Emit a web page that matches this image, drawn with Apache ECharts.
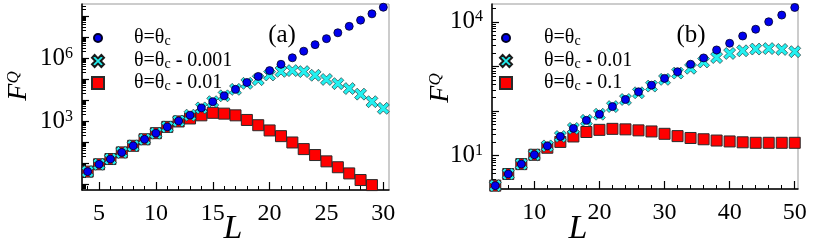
<!DOCTYPE html>
<html><head><meta charset="utf-8">
<script src="https://cdn.jsdelivr.net/npm/echarts@6/dist/echarts.min.js"></script>
<style>html,body{margin:0;padding:0;background:#fff}#c{width:822px;height:247px}</style>
</head><body><div id="c"></div>
<script>
// ---- data ----
const L_A = [4,5,6,7,8,9,10,11,12,13,14,15,16,17,18,19,20,21,22,23,24,25,26,27,28,29,30];
const A_crit = [3.9,8.7,15.5,32,66,135,263,525,1000,1900,4200,8300,15800,32000,68000,132000,250000,500000,1020000,2100000,4300000,8300000,15800000,32000000,63000000,126000000,260000000];
const A_m0001 = [3.9,8.7,15.5,32,66,135,263,525,1000,1900,4200,8300,15800,32000,62000,93000,155000,230000,250000,224000,150000,95000,60000,35000,19000,8300,4000];
const A_m001 = [3.9,8.7,15.5,32,66,135,263,525,950,1320,1860,2450,2240,1860,1120,630,355,190,95,46,24,12,6.3,3.2,1.55,0.89,null];

const L_B = [4,6,8,10,12,14,16,18,20,22,24,26,28,30,32,34,36,38,40,42,44,46,48,50];
const B_crit = [2.14,3.9,6.5,10.5,16.6,27,41,62,85,126,182,270,380,540,760,1120,1550,2340,3300,4800,6800,10000,14100,20900];
const B_m001 = [2.14,3.9,6.5,10.5,16.6,27,41,62,85,126,182,257,363,513,710,910,1260,1580,1950,2240,2450,2510,2400,2140];
const B_m01 = [2.14,3.9,6.5,10.5,15.1,20.4,27,34,38,40,39,37,35,31,27.5,25,23.4,21.9,20.9,20,19.5,19.5,19.5,19.5];

const xTicksA = [5,10,15,20,25,30];
const xTicksB = [10,20,30,40,50];
const yLabelsA = [1e3,1e6];
const yLabelsB = [1e1,1e4];
const legendA = ['θ=θc', 'θ=θc - 0.001', 'θ=θc - 0.01'];
const legendB = ['θ=θc', 'θ=θc - 0.01', 'θ=θc - 0.1'];

// ---- helpers ----
const SERIF = 'Liberation Serif';
const pairs = (xs, ys) => xs.map((x,i)=>[x, ys[i]]).filter(p => p[1] != null);
function range(a,b,s){const r=[];for(let v=a;v<=b+1e-9;v+=s)r.push(+v.toFixed(6));return r;}
function decades(lo,hi){const r=[];for(let k=Math.floor(Math.log10(lo));k<=Math.ceil(Math.log10(hi));k++){const v=Math.pow(10,k);if(v>=lo&&v<=hi)r.push(v);}return r;}
function minorLog(lo,hi){const r=[];for(let k=Math.floor(Math.log10(lo));k<=Math.ceil(Math.log10(hi));k++){for(let m=2;m<=9;m++){const v=m*Math.pow(10,k);if(v>=lo&&v<=hi)r.push(v);}}return r;}

const X_PATH = 'path://M2.2,0 L5,2.8 L7.8,0 L10,2.2 L7.2,5 L10,7.8 L7.8,10 L5,7.2 L2.2,10 L0,7.8 L2.8,5 L0,2.2 Z';
const styles = {
  circle: {symbol:'circle', symbolSize:8, itemStyle:{color:'#0000ee', borderColor:'#000022', borderWidth:0.8, opacity:1}},
  cross:  {symbol:X_PATH, symbolSize:12, itemStyle:{color:'#22f0f0', borderColor:'#1a1a1a', borderWidth:0.6, opacity:1}},
  square: {symbol:'rect', symbolSize:11, itemStyle:{color:'#ff0000', borderColor:'#2a2a2a', borderWidth:1, opacity:1}}
};

const yRange = { A:[0.52, 3.7e8], B:[1.8, 2.5e4] };
const xRange = { A:[3.5, 30.5], B:[3.5, 50.5] };

function xAxes(gi, rng, majors, minors){
  return [
    {gridIndex:gi, type:'value', min:rng[0], max:rng[1], position:'bottom',
     axisLine:{show:true, lineStyle:{color:'#000', width:1.5}},
     axisTick:{show:true, inside:true, length:8, customValues:majors, lineStyle:{color:'#000', width:1.2}},
     axisLabel:{show:true, customValues:majors, margin:12, color:'#000', fontFamily:SERIF, fontSize:24},
     splitLine:{show:false}},
    {gridIndex:gi, type:'value', min:rng[0], max:rng[1], position:'bottom',
     axisLine:{show:false},
     axisTick:{show:true, inside:true, length:4, customValues:minors, lineStyle:{color:'#000', width:1}},
     axisLabel:{show:false}, splitLine:{show:false}}
  ];
}
function yAxes(gi, rng, labels){
  const fmt = v => '{b|10}{s|' + Math.round(Math.log10(v)) + '}';
  return [
    {gridIndex:gi, type:'log', logBase:10, min:rng[0], max:rng[1], position:'left',
     axisLine:{show:true, lineStyle:{color:'#000', width:1.5}},
     axisTick:{show:true, inside:true, length:7, customValues:decades(rng[0],rng[1]), lineStyle:{color:'#000', width:1.2}},
     axisLabel:{show:true, customValues:labels, margin:9, formatter:fmt, color:'#000',
       rich:{b:{fontFamily:SERIF, fontSize:25, color:'#000'}, s:{fontFamily:SERIF, fontSize:16, color:'#000', verticalAlign:'top'}}},
     splitLine:{show:false}, minorTick:{show:false}},
    {gridIndex:gi, type:'log', logBase:10, min:rng[0], max:rng[1], position:'left',
     axisLine:{show:false},
     axisTick:{show:true, inside:true, length:4, customValues:minorLog(rng[0],rng[1]), lineStyle:{color:'#000', width:1}},
     axisLabel:{show:false}, splitLine:{show:false}}
  ];
}

function mkLegend(name, text, left, top, w, pad){
  const rest = text.slice(4);
  const fmt = '{t0|θ=θ}{c|c}' + (rest ? '{t|' + rest + '}' : '');
  return {data:[name], left:left, top:top, orient:'vertical', padding:0, itemWidth:w, itemHeight:w,
    selectedMode:false, formatter:()=>fmt,
    textStyle:{fontFamily:SERIF, fontSize:20, color:'#000', rich:{
      t0:{fontFamily:SERIF, fontSize:20, color:'#000', padding:[0,0,0,pad]},
      t:{fontFamily:SERIF, fontSize:20, color:'#000'},
      c:{fontFamily:SERIF, fontSize:14, color:'#000', verticalAlign:'bottom', padding:[5,0,0,0]}
    }}};
}

const series = [
  Object.assign({name:'A3', type:'scatter', xAxisIndex:0, yAxisIndex:0, data:pairs(L_A, A_m001), z:2}, styles.square),
  Object.assign({name:'A2', type:'scatter', xAxisIndex:0, yAxisIndex:0, data:pairs(L_A, A_m0001), z:3}, styles.cross),
  Object.assign({name:'A1', type:'scatter', xAxisIndex:0, yAxisIndex:0, data:pairs(L_A, A_crit), z:4}, styles.circle),
  Object.assign({name:'B3', type:'scatter', xAxisIndex:2, yAxisIndex:2, data:pairs(L_B, B_m01), z:2}, styles.square),
  Object.assign({name:'B2', type:'scatter', xAxisIndex:2, yAxisIndex:2, data:pairs(L_B, B_m001), z:3}, styles.cross),
  Object.assign({name:'B1', type:'scatter', xAxisIndex:2, yAxisIndex:2, data:pairs(L_B, B_crit), z:4}, styles.circle)
];
series.forEach(s => { s.silent = true; s.clip = true; s.animation = false; });

const chart = echarts.init(document.getElementById('c'), null, {renderer:'canvas'});
chart.setOption({
  animation:false,
  backgroundColor:'#fff',
  grid:[
    {left:82, top:4, width:307, height:186, show:true, borderColor:'#999', borderWidth:1, backgroundColor:'transparent'},
    {left:492, top:4, width:306, height:185, show:true, borderColor:'#999', borderWidth:1, backgroundColor:'transparent'}
  ],
  xAxis: [].concat(xAxes(0, xRange.A, xTicksA, range(4,30,1)), xAxes(1, xRange.B, xTicksB, range(4,50,2))),
  yAxis: [].concat(yAxes(0, yRange.A, yLabelsA), yAxes(1, yRange.B, yLabelsB)),
  legend:[
    mkLegend('A1', legendA[0], 93, 28, 8, 27),
    mkLegend('A2', legendA[1], 91, 51, 12, 25),
    mkLegend('A3', legendA[2], 91, 73, 12, 25),
    mkLegend('B1', legendB[0], 501, 28, 8, 29),
    mkLegend('B2', legendB[1], 499, 51, 12, 27),
    mkLegend('B3', legendB[2], 499, 73, 12, 27)
  ],
  graphic:[
    {type:'text', x:282, y:35, style:{text:'(a)', font:'25px "Liberation Serif"', fill:'#000', align:'center', verticalAlign:'middle'}},
    {type:'text', x:691, y:35, style:{text:'(b)', font:'25px "Liberation Serif"', fill:'#000', align:'center', verticalAlign:'middle'}},
    {type:'text', x:233, y:229, style:{text:'L', font:'italic 34px "Liberation Serif"', fill:'#000', align:'center', verticalAlign:'middle'}},
    {type:'text', x:578, y:229, style:{text:'L', font:'italic 34px "Liberation Serif"', fill:'#000', align:'center', verticalAlign:'middle'}},
    {type:'text', x:19, y:86, rotation:Math.PI/2, style:{text:'{f|F}{q|Q}', align:'center', verticalAlign:'middle',
      rich:{f:{font:'italic 28px "Liberation Serif"', fill:'#000'}, q:{font:'italic 17px "Liberation Serif"', fill:'#000', verticalAlign:'top'}}}},
    {type:'text', x:441, y:88, rotation:Math.PI/2, style:{text:'{f|F}{q|Q}', align:'center', verticalAlign:'middle',
      rich:{f:{font:'italic 28px "Liberation Serif"', fill:'#000'}, q:{font:'italic 17px "Liberation Serif"', fill:'#000', verticalAlign:'top'}}}}
  ],
  series: series
});
</script>
</body></html>
